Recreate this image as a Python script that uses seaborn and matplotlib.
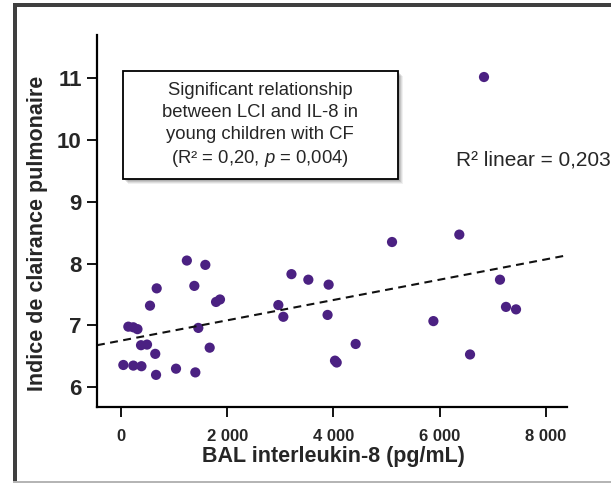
import numpy as np
import pandas as pd
import matplotlib
matplotlib.use("Agg")
import matplotlib.pyplot as plt
from matplotlib.patches import Rectangle
import seaborn as sns

# BAL IL-8 concentration (pg/mL) and lung clearance index per child
il8 = [44, 232, 385, 138, 232, 310, 377, 490, 645, 660, 546, 672, 1036, 1240,
       1381, 1400, 1456, 1588, 1670, 1790, 1864, 2963, 3057, 3210, 3528, 3890,
       3910, 4030, 4062, 4419, 5104, 5883, 6371, 6573, 6836, 7137, 7250, 7439]
lci = [6.36, 6.35, 6.34, 6.98, 6.97, 6.94, 6.68, 6.69, 6.54, 6.20, 7.32, 7.60,
       6.30, 8.05, 7.64, 6.24, 6.96, 7.98, 6.64, 7.38, 7.42, 7.33, 7.14, 7.83,
       7.74, 7.17, 7.66, 6.43, 6.40, 6.70, 8.35, 7.07, 8.47, 6.53, 11.02, 7.74,
       7.30, 7.26]

x_ticks = [0, 2000, 4000, 6000, 8000]
x_tick_labels = ["0", "2 000", "4 000", "6 000", "8 000"]
y_ticks = [6, 7, 8, 9, 10, 11]

df = pd.DataFrame({"il8": il8, "lci": lci})

sns.set_theme(style="ticks")
plt.rcParams["font.family"] = ["Liberation Sans", "DejaVu Sans"]
plt.rcParams["mathtext.fontset"] = "custom"
plt.rcParams["mathtext.rm"] = "Liberation Sans"
plt.rcParams["mathtext.it"] = "Liberation Sans:italic"

W, H = 611, 483
fig = plt.figure(figsize=(W / 100, H / 100), dpi=100)
fig.patch.set_facecolor("white")
ax = fig.add_axes([97 / W, 1 - 407 / H, (567 - 97) / W, (407 - 35) / H])

ax.set_xlim(-452, 8399)
ax.set_ylim(5.68, 11.70)

sns.regplot(data=df, x="il8", y="lci", ax=ax, ci=None, truncate=False,
            scatter_kws=dict(s=54, color="#4b2182", edgecolor="none", alpha=1),
            line_kws=dict(color="#111111", lw=1.5, ls=(0, (3.8, 2.6))))

ax.set_xticks(x_ticks)
ax.set_xticklabels(x_tick_labels)
ax.set_yticks(y_ticks)
for lab in ax.get_xticklabels():
    lab.set_fontsize(12)
    lab.set_fontweight("bold")
for lab in ax.get_yticklabels():
    lab.set_fontsize(16)
    lab.set_fontweight("bold")
ax.tick_params(axis="both", direction="out", length=7, width=1.3, color="black")
ax.tick_params(axis="y", pad=4)
ax.tick_params(axis="x", pad=9)

sns.despine(ax=ax)
for side in ("left", "bottom"):
    ax.spines[side].set_linewidth(1.6)
    ax.spines[side].set_color("black")

ax.set_xlabel("BAL interleukin-8 (pg/mL)", fontsize=15.5, fontweight="bold")
ax.set_ylabel("Indice de clairance pulmonaire", fontsize=15.5,
              fontweight="bold")
ax.xaxis.set_label_coords(0.504, -0.105)
ax.yaxis.set_label_coords(-0.104, 0.468)

# Annotation box with drop shadow
for i, a in enumerate([0.10, 0.10, 0.08, 0.06]):
    fig.add_artist(Rectangle(((123 + 1.5 + i) / W, 1 - (179 + 1.5 + i) / H),
                             275 / W, 108 / H, transform=fig.transFigure,
                             facecolor="black", edgecolor="none", alpha=a,
                             zorder=4))
fig.add_artist(Rectangle((123 / W, 1 - 179 / H), 275 / W, 108 / H,
                         transform=fig.transFigure, facecolor="white",
                         edgecolor="black", lw=1.3, zorder=5))
fig.text(260 / W, 1 - 125.5 / H,
         "Significant relationship\nbetween LCI and IL-8 in\n"
         "young children with CF\n(R² = 0,20, $p$ = 0,004)",
         ha="center", va="center", fontsize=13.3, linespacing=1.38, zorder=6)

fig.text(456 / W, 1 - 160 / H, "R² linear = 0,203", ha="left", va="center",
         fontsize=15, zorder=6)

# Outer frame
fig.add_artist(Rectangle((13 / W, 0), 4 / W, (H - 3) / H,
                         transform=fig.transFigure, facecolor="#3f3f3f",
                         edgecolor="none", zorder=7))
fig.add_artist(Rectangle((13 / W, 1 - 7 / H), (W - 13) / W, 4 / H,
                         transform=fig.transFigure, facecolor="#3f3f3f",
                         edgecolor="none", zorder=7))
fig.add_artist(Rectangle((13 / W, 1 - 483 / H), (W - 13) / W, 2 / H,
                         transform=fig.transFigure, facecolor="#b5b5b5",
                         edgecolor="none", zorder=7))

fig.savefig("out.png", dpi=100)
